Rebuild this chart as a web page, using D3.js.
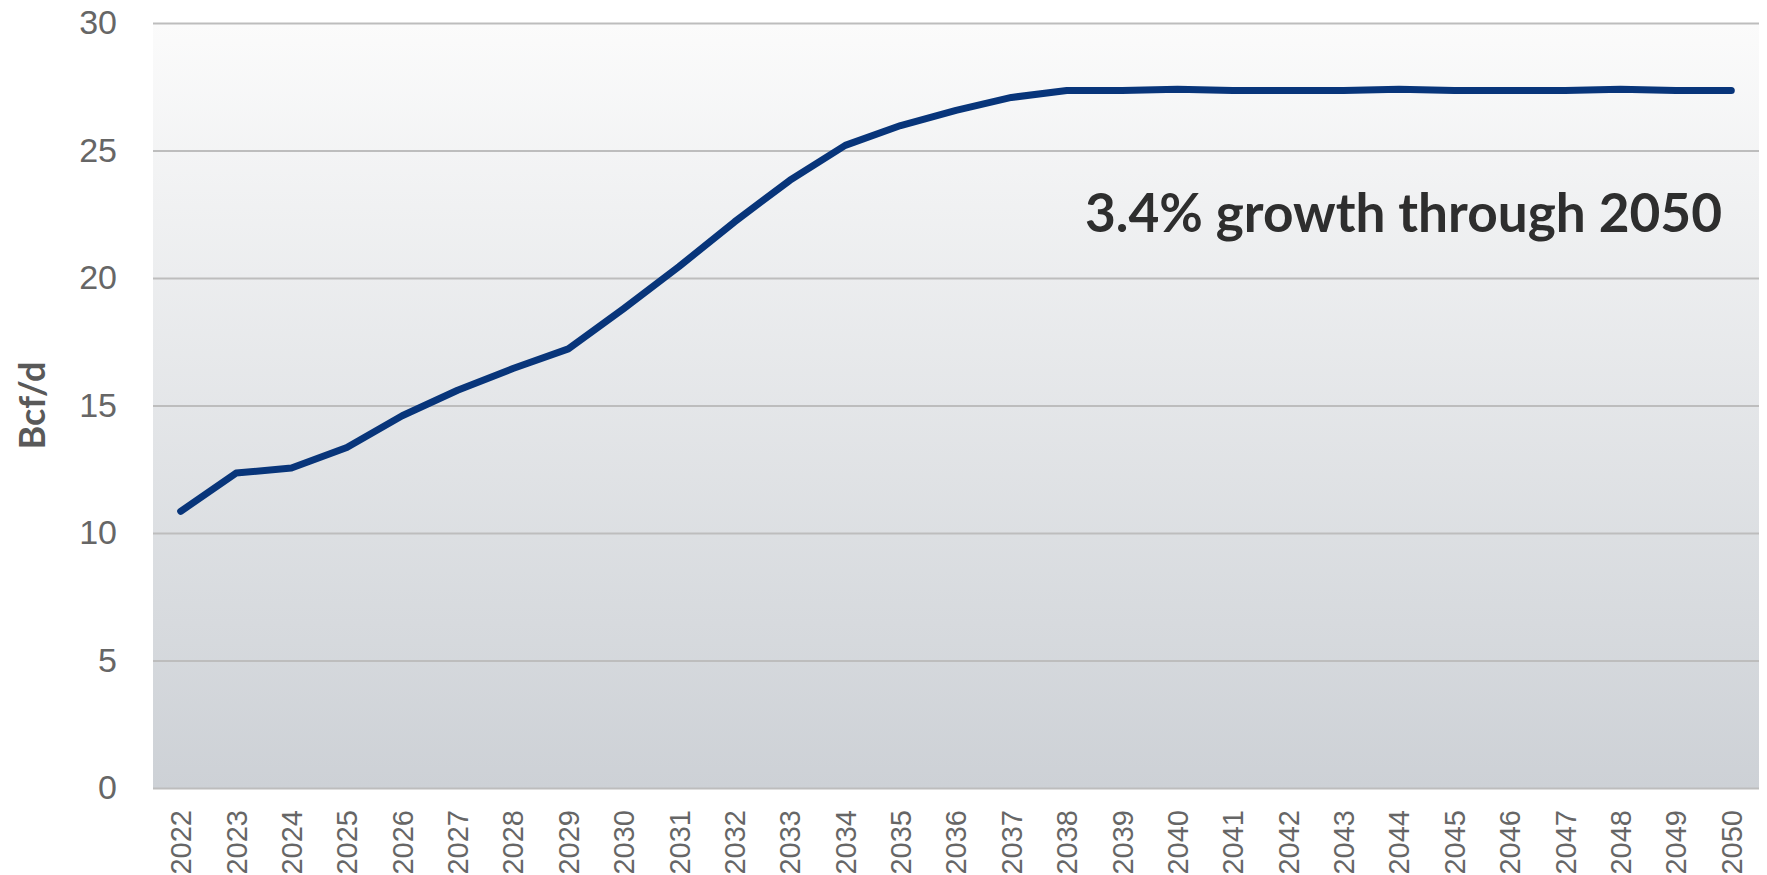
<!DOCTYPE html>
<html>
<head>
<meta charset="utf-8">
<script src="https://cdn.jsdelivr.net/npm/d3@7"></script>
<style>
  html, body { margin: 0; padding: 0; background: #fff; }
  svg { display: block; font-family: Lato, "Noto Sans", sans-serif; }
</style>
</head>
<body>
<svg id="chart" width="1767" height="875"></svg>
<script>
const years = ['2022', '2023', '2024', '2025', '2026', '2027', '2028', '2029', '2030', '2031',
  '2032', '2033', '2034', '2035', '2036', '2037', '2038', '2039', '2040', '2041',
  '2042', '2043', '2044', '2045', '2046', '2047', '2048', '2049', '2050'];
const demand = [10.85, 12.35, 12.55, 13.35, 14.6, 15.6, 16.45, 17.22, 18.8, 20.45,
  22.2, 23.83, 25.2, 25.98, 26.57, 27.08, 27.35, 27.35, 27.4, 27.35,
  27.35, 27.35, 27.4, 27.35, 27.35, 27.35, 27.4, 27.35, 27.35];
const yTicks = [0, 5, 10, 15, 20, 25, 30];
const yLabel = 'Bcf/d';
const note = '3.4% growth through 2050';

const margin = {top: 23, right: 8, bottom: 87, left: 153},
  fullWidth = 1767,
  fullHeight = 875,
  width = fullWidth - margin.left - margin.right,
  height = fullHeight - margin.top - margin.bottom;

const svg = d3.select('#chart');

const grad = svg.append('defs')
  .append('linearGradient')
  .attr('id', 'bg')
  .attr('x1', 0).attr('y1', 0).attr('x2', 0).attr('y2', 1);
grad.append('stop').attr('offset', '0%').attr('stop-color', '#fbfbfb');
grad.append('stop').attr('offset', '100%').attr('stop-color', '#cdd1d6');

const g = svg.append('g')
  .attr('transform', `translate(${margin.left},${margin.top})`);

const x = d3.scaleBand().domain(years).range([0, width]);
const y = d3.scaleLinear().domain([0, 30]).range([height, 0]);

g.append('rect')
  .attr('width', width)
  .attr('height', height)
  .attr('fill', 'url(#bg)');

// gridlines + y labels
const yAxis = g.append('g')
  .call(d3.axisLeft(y).tickValues(yTicks).tickSize(-width).tickPadding(36));
yAxis.select('.domain').remove();
yAxis.selectAll('.tick line')
  .attr('stroke', '#bdbdbd')
  .attr('stroke-width', 2);
yAxis.selectAll('.tick text')
  .attr('fill', '#666')
  .style('font-size', '34px');

// x labels, rotated
const xAxis = g.append('g')
  .attr('transform', `translate(0,${height})`)
  .call(d3.axisBottom(x).tickSize(0));
xAxis.select('.domain').remove();
xAxis.selectAll('.tick text')
  .attr('fill', '#666')
  .style('font-size', '29px')
  .attr('text-anchor', 'end')
  .attr('transform', 'rotate(-90)')
  .attr('x', -22)
  .attr('y', 0)
  .attr('dy', '0.36em');

const line = d3.line()
  .x((d, i) => x(years[i]) + x.bandwidth() / 2)
  .y((d) => y(d));

g.append('path')
  .datum(demand)
  .attr('fill', 'none')
  .attr('stroke', '#08357a')
  .attr('stroke-width', 7)
  .attr('stroke-linejoin', 'round')
  .attr('stroke-linecap', 'round')
  .attr('d', line);

svg.append('text')
  .attr('transform', `translate(32,${margin.top + height / 2}) rotate(-90)`)
  .attr('text-anchor', 'middle')
  .attr('dy', '0.36em')
  .attr('fill', '#595959')
  .style('font-size', '36px')
  .style('font-weight', 'bold')
  .text(yLabel);

svg.append('text')
  .attr('x', 1722)
  .attr('y', 232)
  .attr('text-anchor', 'end')
  .attr('fill', '#2e2e2e')
  .attr('textLength', 637)
  .attr('lengthAdjust', 'spacingAndGlyphs')
  .style('font-size', '53px')
  .style('font-weight', 'bold')
  .text(note);
</script>
</body>
</html>
